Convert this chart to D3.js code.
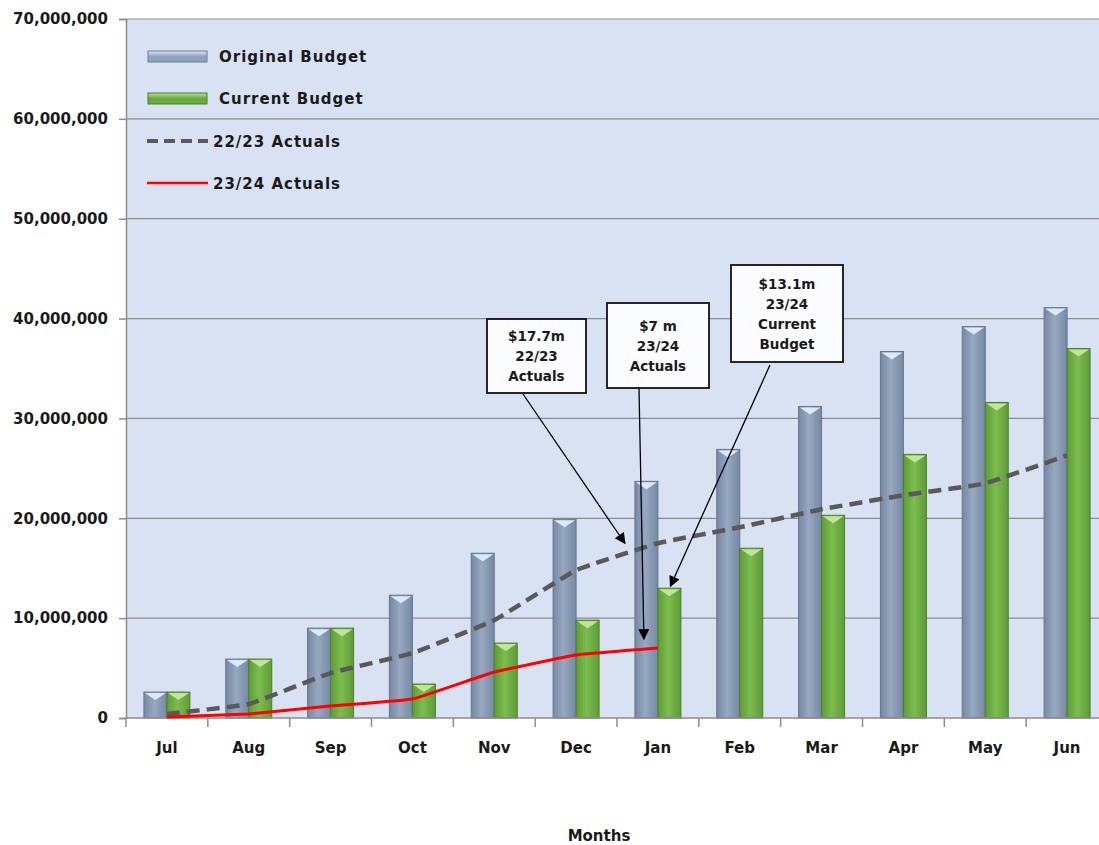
<!DOCTYPE html>
<html>
<head>
<meta charset="utf-8">
<script src="https://cdn.jsdelivr.net/npm/d3@7"></script>
<style>
  body { margin: 0; background: #fff; }
  text { font-family: "DejaVu Sans", Verdana, sans-serif; font-weight: bold; fill: #1a1a1a; }
</style>
</head>
<body>
<svg id="chart" width="1099" height="845"></svg>
<script>
// data
var months = ['Jul', 'Aug', 'Sep', 'Oct', 'Nov', 'Dec', 'Jan', 'Feb', 'Mar', 'Apr', 'May', 'Jun'];
var originalBudget = [2.6, 5.9, 9.0, 12.3, 16.5, 19.9, 23.7, 26.9, 31.2, 36.7, 39.2, 41.1];
var currentBudget = [2.6, 5.9, 9.0, 3.4, 7.5, 9.8, 13.0, 17.0, 20.3, 26.4, 31.6, 37.0];
var actuals2223 = [0.4, 1.4, 4.5, 6.5, 9.8, 14.8, 17.5, 19.1, 20.9, 22.3, 23.5, 26.3];
var actuals2324 = [0.1, 0.4, 1.2, 1.9, 4.6, 6.3, 7.0];
var yTicks = [0, 10, 20, 30, 40, 50, 60, 70];
var M = 1e6;

var svg = d3.select('#chart');
var pLeft = 126, pTop = 19, pRight = 1108, pBottom = 718;

var x = d3.scaleBand().domain(months).range([pLeft, pRight]);
var y = d3.scaleLinear().domain([0, 70 * M]).range([pBottom, pTop]);
var cx = function(m) { return x(m) + x.bandwidth() / 2; };
var barW = 23;

var defs = svg.append('defs');
function hGrad(id, edge, mid) {
  var g = defs.append('linearGradient').attr('id', id).attr('x1', 0).attr('x2', 1).attr('y1', 0).attr('y2', 0);
  g.append('stop').attr('offset', '0%').attr('stop-color', edge);
  g.append('stop').attr('offset', '45%').attr('stop-color', mid);
  g.append('stop').attr('offset', '100%').attr('stop-color', edge);
}
function vGrad(id, edge, mid) {
  var g = defs.append('linearGradient').attr('id', id).attr('x1', 0).attr('x2', 0).attr('y1', 0).attr('y2', 1);
  g.append('stop').attr('offset', '0%').attr('stop-color', mid);
  g.append('stop').attr('offset', '50%').attr('stop-color', edge);
  g.append('stop').attr('offset', '100%').attr('stop-color', edge);
}
hGrad('gBlue', '#7689a3', '#97a8c0');
hGrad('gGreen', '#5e9b36', '#7dbd4f');
vGrad('lBlue', '#8fa3bc', '#dbe8f6');
vGrad('lGreen', '#6aaa3e', '#b7e28f');

var marker = defs.append('marker').attr('id', 'arrow')
  .attr('viewBox', '0 0 10 10').attr('refX', 9).attr('refY', 5)
  .attr('markerWidth', 13).attr('markerHeight', 11).attr('orient', 'auto-start-reverse')
  .attr('markerUnits', 'userSpaceOnUse');
marker.append('path').attr('d', 'M0,0 L10,5 L0,10 z').attr('fill', '#000');

// plot background
svg.append('rect').attr('x', pLeft).attr('y', pTop)
  .attr('width', pRight - pLeft).attr('height', pBottom - pTop).attr('fill', '#d9e2f3');

// gridlines
svg.append('g').selectAll('line').data(yTicks.slice(1)).join('line')
  .attr('x1', pLeft).attr('x2', pRight)
  .attr('y1', function(d) { return y(d * M); }).attr('y2', function(d) { return y(d * M); })
  .attr('stroke', '#8c8c8c').attr('stroke-width', 1.2);

// y axis
var yAxis = svg.append('g').attr('transform', 'translate(' + pLeft + ',0)')
  .call(d3.axisLeft(y).tickValues(yTicks.map(function(d) { return d * M; }))
    .tickFormat(d3.format(',')).tickSize(7).tickPadding(11));
yAxis.select('.domain').attr('stroke', '#8c8c8c').attr('stroke-width', 1.5);
yAxis.selectAll('.tick line').attr('stroke', '#8c8c8c').attr('stroke-width', 1.5);
yAxis.selectAll('text').attr('font-size', 15).attr('fill', '#1a1a1a')
  .attr('font-family', '"DejaVu Sans", sans-serif').attr('font-weight', 'bold');

// bars
function drawBars(vals, offset, fill, cap, stroke) {
  var g = svg.append('g');
  var d = months.map(function(m, i) { return { m: m, v: vals[i] }; });
  g.selectAll('rect').data(d).join('rect')
    .attr('x', function(d) { return cx(d.m) + offset; })
    .attr('y', function(d) { return y(d.v * M); })
    .attr('width', barW)
    .attr('height', function(d) { return pBottom - y(d.v * M); })
    .attr('fill', fill).attr('stroke', stroke).attr('stroke-width', 1);
  g.selectAll('path').data(d).join('path')
    .attr('d', function(d) {
      var x0 = cx(d.m) + offset, y0 = y(d.v * M);
      return 'M' + (x0 + 1) + ',' + (y0 + 1) + 'L' + (x0 + barW - 1) + ',' + (y0 + 1) +
        'L' + (x0 + barW / 2) + ',' + (y0 + 8) + 'Z';
    })
    .attr('fill', cap);
}
drawBars(originalBudget, -barW, 'url(#gBlue)', '#dce9f7', '#65768d');
drawBars(currentBudget, 0, 'url(#gGreen)', '#bfe79a', '#4c7f2b');

// x axis
svg.append('line').attr('x1', pLeft).attr('x2', pRight).attr('y1', pBottom).attr('y2', pBottom)
  .attr('stroke', '#8c8c8c').attr('stroke-width', 1.5);
svg.append('g').selectAll('line').data(months).join('line')
  .attr('x1', function(m) { return x(m); }).attr('x2', function(m) { return x(m); })
  .attr('y1', pBottom).attr('y2', pBottom + 9)
  .attr('stroke', '#8c8c8c').attr('stroke-width', 1.5);
svg.append('g').selectAll('text').data(months).join('text')
  .attr('x', function(m) { return cx(m); }).attr('y', 753)
  .attr('text-anchor', 'middle').attr('font-size', 15).text(function(m) { return m; });
svg.append('text').attr('x', 599).attr('y', 841).attr('text-anchor', 'middle')
  .attr('font-size', 15).text('Months');

// lines (Excel-style light smoothing)
var line = d3.line()
  .x(function(d, i) { return cx(months[i]); })
  .y(function(d) { return y(d * M); })
  .curve(d3.curveCardinal.tension(0.7));
svg.append('path').datum(actuals2223).attr('d', line)
  .attr('fill', 'none').attr('stroke', '#595959').attr('stroke-width', 4.5)
  .attr('stroke-dasharray', '13 7');
svg.append('path').datum(actuals2324).attr('d', line)
  .attr('fill', 'none').attr('stroke', '#ff0000').attr('stroke-width', 3);

// legend
var lg = svg.append('g');
[['Original Budget', 'url(#lBlue)', '#6a7b91', 56], ['Current Budget', 'url(#lGreen)', '#4c7f2b', 98]]
  .forEach(function(d) {
    lg.append('rect').attr('x', 148).attr('y', d[3] - 5).attr('width', 59).attr('height', 11)
      .attr('fill', d[1]).attr('stroke', d[2]).attr('stroke-width', 1);
    lg.append('text').attr('x', 219).attr('y', d[3] + 6).attr('font-size', 15)
      .attr('letter-spacing', 1).text(d[0]);
  });
lg.append('line').attr('x1', 147).attr('x2', 208).attr('y1', 141).attr('y2', 141)
  .attr('stroke', '#595959').attr('stroke-width', 4).attr('stroke-dasharray', '11 6');
lg.append('text').attr('x', 213).attr('y', 147).attr('font-size', 15).attr('letter-spacing', 1).text('22/23 Actuals');
lg.append('line').attr('x1', 147).attr('x2', 208).attr('y1', 183).attr('y2', 183)
  .attr('stroke', '#ff0000').attr('stroke-width', 2.5);
lg.append('text').attr('x', 213).attr('y', 189).attr('font-size', 15).attr('letter-spacing', 1).text('23/24 Actuals');

// annotations
var notes = [
  { box: [487, 319, 99, 74], lines: ['$17.7m', '22/23', 'Actuals'], from: [523, 394],
    to: [cx('Jan') - 33, y(17.7 * M) + 2] },
  { box: [607, 303, 102, 85], lines: ['$7 m', '23/24', 'Actuals'], from: [639, 388],
    to: [cx('Jan') - 14, y(7 * M) - 9] },
  { box: [731, 265, 112, 97], lines: ['$13.1m', '23/24', 'Current', 'Budget'], from: [770, 365],
    to: [cx('Jan') + barW / 2 + 1, y(13.1 * M) - 1] }
];
notes.forEach(function(n) {
  svg.append('line').attr('x1', n.from[0]).attr('y1', n.from[1])
    .attr('x2', n.to[0]).attr('y2', n.to[1])
    .attr('stroke', '#000').attr('stroke-width', 1.3).attr('marker-end', 'url(#arrow)');
  svg.append('rect').attr('x', n.box[0]).attr('y', n.box[1]).attr('width', n.box[2]).attr('height', n.box[3])
    .attr('fill', '#fbfcff').attr('stroke', '#111').attr('stroke-width', 1.8);
  var t = svg.append('text').attr('text-anchor', 'middle').attr('font-size', 13.5);
  var startY = n.box[1] + n.box[3] / 2 - (n.lines.length - 1) * 10 + 5;
  n.lines.forEach(function(s, i) {
    t.append('tspan').attr('x', n.box[0] + n.box[2] / 2).attr('y', startY + i * 20).text(s);
  });
});
</script>
</body>
</html>
